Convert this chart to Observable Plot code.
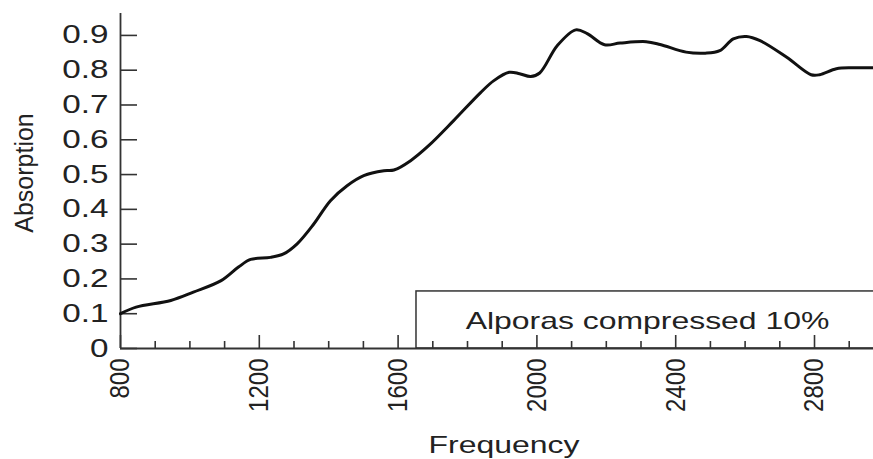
<!DOCTYPE html>
<html>
<head>
<meta charset="utf-8">
<script src="https://cdn.jsdelivr.net/npm/d3@7"></script>
<script src="https://cdn.jsdelivr.net/npm/@observablehq/plot@0.6"></script>
<style>
  body { margin: 0; background: #fff; }
  #chart svg { display: block; }
</style>
</head>
<body>
<div id="chart"></div>
<script>
// ---- data ----
const frequency = [800, 845, 945, 1010, 1090, 1140, 1175, 1232, 1270, 1309, 1357, 1405, 1453, 1501, 1559, 1588, 1636, 1688, 1760, 1837, 1876, 1920, 1950, 1982, 2008, 2059, 2112, 2145, 2195, 2240, 2315, 2355, 2430, 2485, 2527, 2566, 2604, 2643, 2720, 2790, 2815, 2863, 2910, 2970];
const absorption = [0.100, 0.119, 0.138, 0.162, 0.195, 0.234, 0.256, 0.262, 0.272, 0.301, 0.358, 0.425, 0.468, 0.497, 0.511, 0.513, 0.540, 0.583, 0.655, 0.735, 0.770, 0.794, 0.790, 0.782, 0.792, 0.871, 0.916, 0.905, 0.873, 0.878, 0.882, 0.874, 0.852, 0.849, 0.856, 0.890, 0.897, 0.885, 0.837, 0.787, 0.787, 0.804, 0.807, 0.807];

const xMajorTicks = [800, 1200, 1600, 2000, 2400, 2800];
const xMinorTicks = [900, 1000, 1100, 1300, 1400, 1500, 1700, 1800, 1900, 2100, 2200, 2300, 2500, 2600, 2700, 2900];
const yTicks = [0, 0.1, 0.2, 0.3, 0.4, 0.5, 0.6, 0.7, 0.8, 0.9];
const yTickLabels = ["0", "0.1", "0.2", "0.3", "0.4", "0.5", "0.6", "0.7", "0.8", "0.9"];
const xTickLabels = ["800", "1200", "1600", "2000", "2400", "2800"];

const xLabel = "Frequency";
const yLabel = "Absorption";
const legendLabel = "Alporas compressed 10%";

// ---- layout ----
const xDomain = [800, 2970];
const yDomain = [0, 0.963];
const legendBox = [{x1: 1653, x2: 2980, y1: 0, y2: 0.164}];
const axisColor = "#333";
const textColor = "#222";

const data = frequency.map((f, i) => ({f, a: absorption[i]}));
const yTickData = yTicks.map((v, i) => ({v, label: yTickLabels[i]}));
const xTickData = xMajorTicks.map((v, i) => ({v, label: xTickLabels[i]}));

const chart = Plot.plot({
  width: 873,
  height: 459,
  marginTop: 13,
  marginBottom: 111,
  marginLeft: 120,
  marginRight: 0,
  style: {fontFamily: "'Liberation Sans', Arial, sans-serif", background: "#fff", color: textColor},
  x: {domain: xDomain, axis: null},
  y: {domain: yDomain, axis: null},
  marks: [
    // legend box
    Plot.rect(legendBox, {x1: "x1", x2: "x2", y1: "y1", y2: "y2", fill: "none", stroke: axisColor, strokeWidth: 1.5}),
    Plot.text([legendLabel], {frameAnchor: "bottom-right", dx: -226, dy: -27, textAnchor: "middle", lineAnchor: "middle", fontSize: 24, fill: textColor}),
    // axes lines
    Plot.ruleX([xDomain[0]], {y1: 0, y2: yDomain[1], stroke: axisColor, strokeWidth: 1.8}),
    Plot.ruleY([0], {x1: xDomain[0], x2: xDomain[1], stroke: axisColor, strokeWidth: 1.8}),
    // y ticks (inward)
    Plot.ruleY(yTicks, {x1: xDomain[0], x2: xDomain[0], insetRight: -17, stroke: axisColor, strokeWidth: 1.6}),
    // x ticks (inward)
    Plot.ruleX(xMajorTicks, {y1: 0, y2: 0, insetTop: -13, stroke: axisColor, strokeWidth: 1.6}),
    Plot.ruleX(xMinorTicks, {y1: 0, y2: 0, insetTop: -7, stroke: axisColor, strokeWidth: 1.6}),
    // tick labels
    Plot.text(yTickData, {y: "v", text: "label", frameAnchor: "left", textAnchor: "end", lineAnchor: "middle", dx: -12, fontSize: 25, fill: textColor}),
    Plot.text(xTickData, {x: "v", text: "label", frameAnchor: "bottom", rotate: -90, textAnchor: "end", lineAnchor: "middle", dy: 10, fontSize: 24, fill: textColor}),
    // axis labels
    Plot.text([xLabel], {frameAnchor: "bottom", dx: 7, dy: 97, textAnchor: "middle", lineAnchor: "middle", fontSize: 24, fill: textColor}),
    Plot.text([yLabel], {frameAnchor: "left", rotate: -90, dx: -96, dy: -8, textAnchor: "middle", lineAnchor: "middle", fontSize: 25, fill: textColor}),
    // the curve
    Plot.line(data, {x: "f", y: "a", curve: "catmull-rom", stroke: "#111", strokeWidth: 3})
  ]
});

document.getElementById("chart").append(chart);

// the reference's text is drawn wider (horizontally) than the font's natural shape
const K = 1.33;
chart.querySelectorAll("text").forEach(t => {
  const own = t.getAttribute("transform") || "";
  const tr = own + (t.parentNode.getAttribute("transform") || "");
  if (tr.includes("rotate")) {
    if (/^\d+$/.test(t.textContent) && own.includes("rotate")) {
      t.setAttribute("transform", own + " scale(1,1.15)");
    }
    return;
  }
  const len = t.getComputedTextLength();
  t.setAttribute("textLength", len * K);
  t.setAttribute("lengthAdjust", "spacingAndGlyphs");
});
</script>
</body>
</html>
